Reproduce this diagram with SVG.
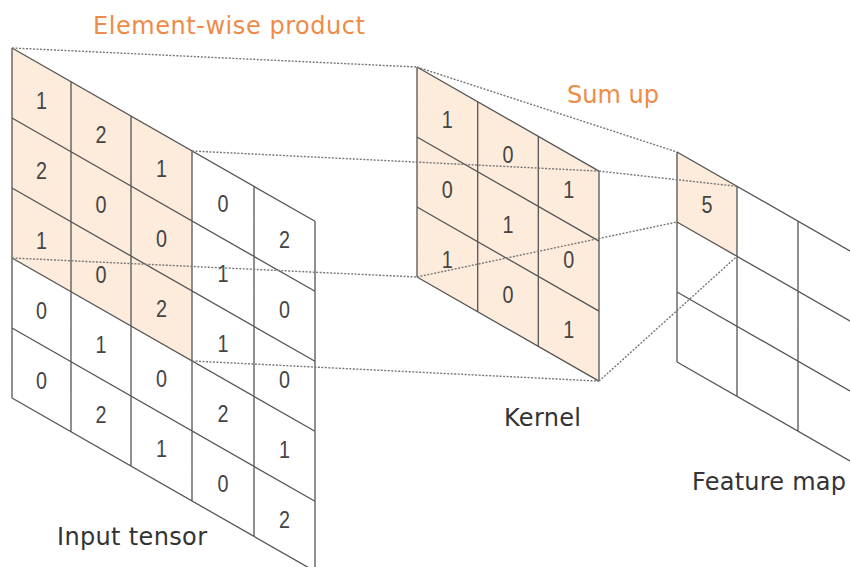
<svg xmlns="http://www.w3.org/2000/svg" width="850" height="567" viewBox="0 0 850 567">
<style>
.hl{fill:#fdebdc;stroke:none}
.grid{fill:none;stroke:#555;stroke-width:1.3}
.d{font-family:"Liberation Sans","DejaVu Sans",sans-serif;font-size:24px;fill:#444;text-anchor:middle}
.lbl{font-family:"DejaVu Sans","Liberation Sans",sans-serif;font-size:24px;fill:#333}
.or{fill:#ef8a47}
.dot{fill:none;stroke:#777;stroke-width:1.4;stroke-dasharray:2 1.5}
</style>
<rect width="850" height="567" fill="#fff"/>
<g id="input-tensor">
<polygon class="hl" points="12,48 192,151 192,361 12,258"/>
<path class="grid" d="M12 48L315 221.3M12 118L315 291.3M12 188L315 361.3M12 258L315 431.3M12 328L315 501.3M12 398L315 571.3M12 48V398M71 81.7V431.7M131 116.1V466.1M192 151V501M254 186.4V536.4M315 221.3V571.3"/>
<g>
<text class="d" x="41.5" y="108.6" textLength="11" lengthAdjust="spacingAndGlyphs">1</text>
<text class="d" x="101" y="142.6" textLength="11" lengthAdjust="spacingAndGlyphs">2</text>
<text class="d" x="161.5" y="177.2" textLength="11" lengthAdjust="spacingAndGlyphs">1</text>
<text class="d" x="223" y="212.4" textLength="11" lengthAdjust="spacingAndGlyphs">0</text>
<text class="d" x="284.5" y="247.6" textLength="11" lengthAdjust="spacingAndGlyphs">2</text>
<text class="d" x="41.5" y="178.6" textLength="11" lengthAdjust="spacingAndGlyphs">2</text>
<text class="d" x="101" y="212.6" textLength="11" lengthAdjust="spacingAndGlyphs">0</text>
<text class="d" x="161.5" y="247.2" textLength="11" lengthAdjust="spacingAndGlyphs">0</text>
<text class="d" x="223" y="282.4" textLength="11" lengthAdjust="spacingAndGlyphs">1</text>
<text class="d" x="284.5" y="317.6" textLength="11" lengthAdjust="spacingAndGlyphs">0</text>
<text class="d" x="41.5" y="248.6" textLength="11" lengthAdjust="spacingAndGlyphs">1</text>
<text class="d" x="101" y="282.6" textLength="11" lengthAdjust="spacingAndGlyphs">0</text>
<text class="d" x="161.5" y="317.2" textLength="11" lengthAdjust="spacingAndGlyphs">2</text>
<text class="d" x="223" y="352.4" textLength="11" lengthAdjust="spacingAndGlyphs">1</text>
<text class="d" x="284.5" y="387.6" textLength="11" lengthAdjust="spacingAndGlyphs">0</text>
<text class="d" x="41.5" y="318.6" textLength="11" lengthAdjust="spacingAndGlyphs">0</text>
<text class="d" x="101" y="352.6" textLength="11" lengthAdjust="spacingAndGlyphs">1</text>
<text class="d" x="161.5" y="387.2" textLength="11" lengthAdjust="spacingAndGlyphs">0</text>
<text class="d" x="223" y="422.4" textLength="11" lengthAdjust="spacingAndGlyphs">2</text>
<text class="d" x="284.5" y="457.6" textLength="11" lengthAdjust="spacingAndGlyphs">1</text>
<text class="d" x="41.5" y="388.6" textLength="11" lengthAdjust="spacingAndGlyphs">0</text>
<text class="d" x="101" y="422.6" textLength="11" lengthAdjust="spacingAndGlyphs">2</text>
<text class="d" x="161.5" y="457.2" textLength="11" lengthAdjust="spacingAndGlyphs">1</text>
<text class="d" x="223" y="492.4" textLength="11" lengthAdjust="spacingAndGlyphs">0</text>
<text class="d" x="284.5" y="527.6" textLength="11" lengthAdjust="spacingAndGlyphs">2</text>
</g>
<text class="lbl" x="57" y="545" textLength="150">Input tensor</text>
</g>
<g id="kernel">
<polygon class="hl" points="417,67 599,171.1 599,381.1 417,277"/>
<path class="grid" d="M417 67L599 171.1M417 137L599 241.1M417 207L599 311.1M417 277L599 381.1M417 67V277M477.7 101.7V311.7M538.3 136.4V346.4M599 171.1V381.1"/>
<text class="d" x="447.3" y="128.1" textLength="11" lengthAdjust="spacingAndGlyphs">1</text>
<text class="d" x="508" y="162.8" textLength="11" lengthAdjust="spacingAndGlyphs">0</text>
<text class="d" x="568.7" y="197.5" textLength="11" lengthAdjust="spacingAndGlyphs">1</text>
<text class="d" x="447.3" y="198.1" textLength="11" lengthAdjust="spacingAndGlyphs">0</text>
<text class="d" x="508" y="232.8" textLength="11" lengthAdjust="spacingAndGlyphs">1</text>
<text class="d" x="568.7" y="267.5" textLength="11" lengthAdjust="spacingAndGlyphs">0</text>
<text class="d" x="447.3" y="268.1" textLength="11" lengthAdjust="spacingAndGlyphs">1</text>
<text class="d" x="508" y="302.8" textLength="11" lengthAdjust="spacingAndGlyphs">0</text>
<text class="d" x="568.7" y="337.5" textLength="11" lengthAdjust="spacingAndGlyphs">1</text>
<text class="lbl" x="504" y="426" textLength="77">Kernel</text>
</g>
<g id="feature-map">
<polygon class="hl" points="677,152 737,186.3 737,256.3 677,222"/>
<path class="grid" d="M677 152L859 256.1M677 222L859 326.1M677 292L859 396.1M677 362L859 466.1M677 152V362M737 186.3V396.3M798 221.2V431.2M859 256.1V466.1"/>
<text class="d" x="707" y="212.9" textLength="11" lengthAdjust="spacingAndGlyphs">5</text>
<text class="lbl" x="692" y="490" textLength="154">Feature map</text>
</g>
<g id="connectors">
<path class="dot" d="M12 48L417 67M192 151L599 171.1M12 258L417 277M192 361L599 381.1M417 67L677 152M599 171.1L737 186.3M417 277L677 222M599 381.1L737 256.3"/>
</g>
<g id="captions">
<text class="lbl or" x="93" y="34" textLength="272">Element-wise product</text>
<text class="lbl or" x="567" y="103" textLength="92">Sum up</text>
</g>
</svg>
